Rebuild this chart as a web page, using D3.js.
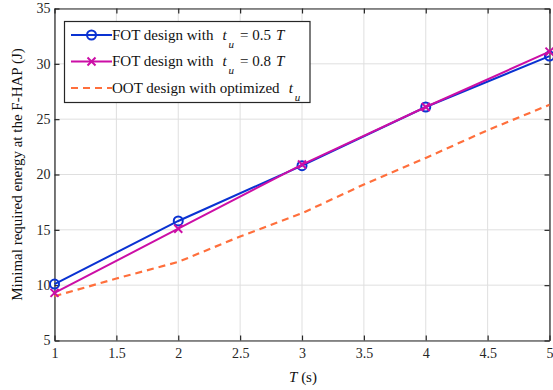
<!DOCTYPE html>
<html><head><meta charset="utf-8">
<script src="https://cdn.jsdelivr.net/npm/d3@7"></script>
<style>body{margin:0;background:#fff}svg{display:block}
svg text{font-family:"Liberation Serif","DejaVu Serif","Times New Roman",Times,serif !important;}</style>
</head><body>
<script>
const xTicks = [1, 1.5, 2, 2.5, 3, 3.5, 4, 4.5, 5];
const yTicks = [5, 10, 15, 20, 25, 30, 35];
const Tfot = [1, 2, 3, 4, 5];
const fot05 = [10.1, 15.8, 20.8, 26.1, 30.7];
const fot08 = [9.3, 15.1, 20.9, 26.1, 31.1];
const Toot = [1, 1.5, 2, 2.5, 3, 3.5, 4, 4.5, 5];
const oot = [9.0, 10.6, 12.1, 14.4, 16.5, 19.1, 21.5, 24.0, 26.3];

const W = 553, H = 390;
const m = {l: 54.5, r: 549.5, t: 8.5, b: 340.5};
const svg = d3.select("body").append("svg").attr("width", W).attr("height", H);
const x = d3.scaleLinear().domain([1, 5]).range([m.l, m.r]);
const y = d3.scaleLinear().domain([5, 35]).range([m.b, m.t]);

// grid
svg.append("g").selectAll("line").data(xTicks).join("line")
  .attr("x1", d => x(d)).attr("x2", d => x(d)).attr("y1", m.t).attr("y2", m.b)
  .attr("stroke", "#dfdfdf").attr("stroke-width", 1);
svg.append("g").selectAll("line").data(yTicks).join("line")
  .attr("y1", d => y(d)).attr("y2", d => y(d)).attr("x1", m.l).attr("x2", m.r)
  .attr("stroke", "#dfdfdf").attr("stroke-width", 1);

const axCol = "#262626";
function styleAxis(g){ g.attr("font-family", null).attr("font-size", null);
  g.selectAll("path").attr("stroke", axCol).attr("stroke-width", 1.2);
  g.selectAll("line").attr("stroke", axCol).attr("stroke-width", 1.2);
  g.selectAll("text").attr("fill", axCol).style("font-size", "14px"); }
const xb = svg.append("g").attr("transform", `translate(0,${m.b})`)
  .call(d3.axisBottom(x).tickValues(xTicks).tickSize(-5).tickSizeOuter(0).tickPadding(8).tickFormat(d3.format("")));
styleAxis(xb);
const xt = svg.append("g").attr("transform", `translate(0,${m.t})`)
  .call(d3.axisTop(x).tickValues(xTicks).tickSize(-5).tickSizeOuter(0).tickFormat(""));
styleAxis(xt);
const yl = svg.append("g").attr("transform", `translate(${m.l},0)`)
  .call(d3.axisLeft(y).tickValues(yTicks).tickSize(-5).tickSizeOuter(0).tickPadding(4));
styleAxis(yl);
const yr = svg.append("g").attr("transform", `translate(${m.r},0)`)
  .call(d3.axisRight(y).tickValues(yTicks).tickSize(-5).tickSizeOuter(0).tickFormat(""));
styleAxis(yr);

const blue = "#0a32d2", mag = "#cc0ea6", orange = "#ff6f3c";
const line = d3.line();
svg.append("path").datum(Toot.map((t,i)=>[x(t), y(oot[i])])).attr("d", line)
  .attr("fill", "none").attr("stroke", orange).attr("stroke-width", 2.2).attr("stroke-dasharray", "7,5");
svg.append("path").datum(Tfot.map((t,i)=>[x(t), y(fot05[i])])).attr("d", line)
  .attr("fill", "none").attr("stroke", blue).attr("stroke-width", 2);
svg.append("g").selectAll("circle").data(Tfot).join("circle")
  .attr("cx", d => x(d)).attr("cy", (d,i) => y(fot05[i])).attr("r", 4.5)
  .attr("fill", "none").attr("stroke", blue).attr("stroke-width", 2);
svg.append("path").datum(Tfot.map((t,i)=>[x(t), y(fot08[i])])).attr("d", line)
  .attr("fill", "none").attr("stroke", mag).attr("stroke-width", 2);
const cross = (g, cx, cy, s, col) => {
  g.append("path").attr("d", `M${cx-s},${cy-s}L${cx+s},${cy+s}M${cx-s},${cy+s}L${cx+s},${cy-s}`)
   .attr("stroke", col).attr("stroke-width", 2);
};
const cg = svg.append("g");
Tfot.forEach((t,i) => cross(cg, x(t), y(fot08[i]), 4, mag));

// legend
const lg = svg.append("g");
lg.append("rect").attr("x", 64.5).attr("y", 21.5).attr("width", 245.5).attr("height", 81)
  .attr("fill", "#fff").attr("stroke", axCol).attr("stroke-width", 1.2);
const rows = [
  {y: 35, col: blue, mk: "o", pre: "FOT design with", val: "= 0.5", T: true},
  {y: 61.5, col: mag, mk: "x", pre: "FOT design with", val: "= 0.8", T: true},
  {y: 88, col: orange, mk: "", pre: "OOT design with optimized", val: "", T: false}
];
rows.forEach(r => {
  if (r.mk === "") {
    lg.append("line").attr("x1", 71).attr("x2", 112).attr("y1", r.y).attr("y2", r.y)
      .attr("stroke", r.col).attr("stroke-width", 2.2).attr("stroke-dasharray", "7,5");
  } else {
    lg.append("line").attr("x1", 71).attr("x2", 112).attr("y1", r.y).attr("y2", r.y)
      .attr("stroke", r.col).attr("stroke-width", 2);
    if (r.mk === "o") lg.append("circle").attr("cx", 91.5).attr("cy", r.y).attr("r", 4.5)
      .attr("fill", "none").attr("stroke", r.col).attr("stroke-width", 2);
    else cross(lg, 91.5, r.y, 4, r.col);
  }
  const t = lg.append("text").attr("x", 112).attr("y", r.y + 4.5).attr("fill", "#111").style("font-size", "15px");
  t.append("tspan").text(r.pre);
  t.append("tspan").attr("font-style", "italic").attr("dx", 9).text("t");
  t.append("tspan").attr("font-style", "italic").attr("dx", 2).attr("dy", 8).style("font-size", "11px").text("u");
  if (r.val) {
    t.append("tspan").attr("dy", -8).attr("dx", 6).text(r.val);
    t.append("tspan").attr("font-style", "italic").attr("dx", 5).text("T");
  }
});

// axis labels
const xl = svg.append("text").attr("x", 303).attr("y", 382).attr("text-anchor", "middle")
  .attr("fill", "#111").style("font-size", "15px");
xl.append("tspan").attr("font-style", "italic").text("T");
xl.append("tspan").text(" (s)");
svg.append("text").attr("transform", `translate(22,${(m.t+m.b)/2}) rotate(-90)`)
  .attr("text-anchor", "middle").attr("fill", "#111").style("font-size", "15px")
  .text("Minimal required energy at the F-HAP (J)");
</script>
</body></html>
